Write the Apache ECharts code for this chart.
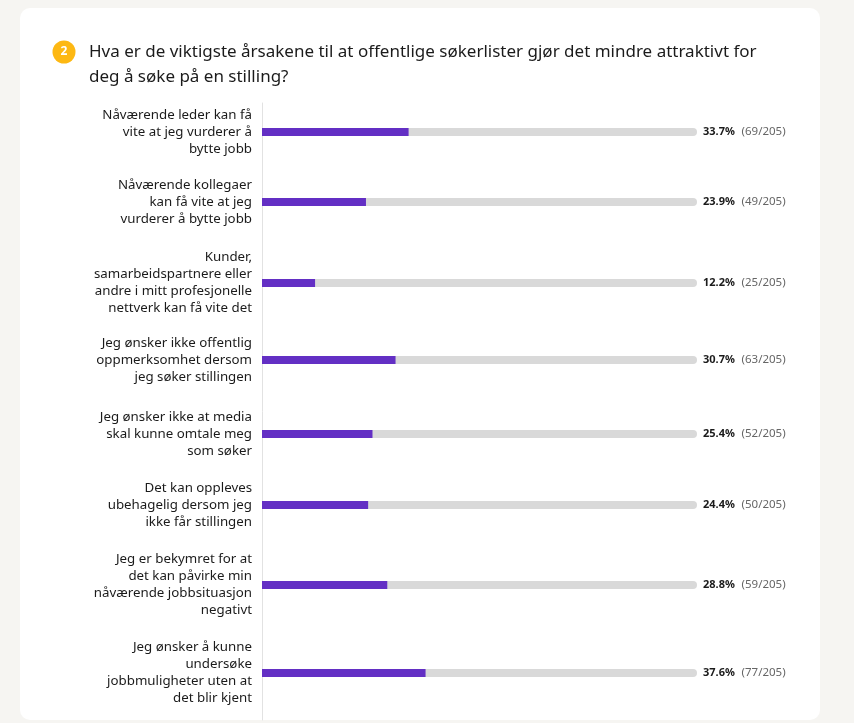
<!DOCTYPE html>
<html><head><meta charset="utf-8">
<script src="https://cdn.jsdelivr.net/npm/echarts@6/dist/echarts.min.js"></script>
<style>html,body{margin:0;padding:0;background:#f6f5f2;}#c{width:854px;height:723px;}</style>
</head><body><div id="c"></div>
<script>
const titleText = "Hva er de viktigste årsakene til at offentlige søkerlister gjør det mindre attraktivt for\ndeg å søke på en stilling?";
const questionNumber = "2";
const categories = [
  "Nåværende leder kan få\nvite at jeg vurderer å\nbytte jobb",
  "Nåværende kollegaer\nkan få vite at jeg\nvurderer å bytte jobb",
  "Kunder,\nsamarbeidspartnere eller\nandre i mitt profesjonelle\nnettverk kan få vite det",
  "Jeg ønsker ikke offentlig\noppmerksomhet dersom\njeg søker stillingen",
  "Jeg ønsker ikke at media\nskal kunne omtale meg\nsom søker",
  "Det kan oppleves\nubehagelig dersom jeg\nikke får stillingen",
  "Jeg er bekymret for at\ndet kan påvirke min\nnåværende jobbsituasjon\nnegativt",
  "Jeg ønsker å kunne\nundersøke\njobbmuligheter uten at\ndet blir kjent"
];
const percents = [33.7, 23.9, 12.2, 30.7, 25.4, 24.4, 28.8, 37.6];
const counts = [69, 49, 25, 63, 52, 50, 59, 77];
const total = 205;
const trackMax = 100;

// layout (pixel centres of each row)
const rowCenters = [132, 202, 283, 360, 434, 505, 585, 673];
const FONT = "'Noto Sans', 'Open Sans', sans-serif";

const grids = [], xAxes = [], yAxes = [], series = [];
rowCenters.forEach((c, i) => {
  grids.push({left: 262, right: 157, top: c - 20, height: 40, containLabel: false});
  xAxes.push({type: 'value', gridIndex: i, min: 0, max: trackMax, show: false});
  yAxes.push({type: 'category', gridIndex: i, data: [categories[i]],
    axisLine: {show: false}, axisTick: {show: false},
    axisLabel: {align: 'right', margin: 10, fontSize: 13.3, lineHeight: 17, color: '#1b1b1b', fontFamily: FONT}});
  series.push({type: 'bar', xAxisIndex: i, yAxisIndex: i, data: [trackMax], barWidth: 8,
    itemStyle: {color: '#d9d9d9', borderRadius: [0, 4, 4, 0]}, silent: true, z: 1,
    label: {show: true, position: 'right', distance: 6,
      formatter: () => '{b|' + percents[i].toFixed(1) + '%}  {n|(' + counts[i] + '/' + total + ')}',
      rich: {b: {fontWeight: 'bold', fontSize: 11, color: '#1b1b1b', fontFamily: FONT},
             n: {fontSize: 11.5, color: '#666666', fontFamily: FONT}}}});
  series.push({type: 'bar', xAxisIndex: i, yAxisIndex: i, data: [percents[i]], barWidth: 8, barGap: '-100%',
    itemStyle: {color: '#632fc4'}, z: 2});
});
// full-height vertical axis line
const n = rowCenters.length;
grids.push({left: 262, width: 10, top: 103, bottom: 3});
xAxes.push({type: 'value', gridIndex: n, show: false});
yAxes.push({type: 'value', gridIndex: n, min: 0, max: 1, axisLine: {show: true, lineStyle: {color: '#e2e2e2', width: 1}},
  axisTick: {show: false}, axisLabel: {show: false}, splitLine: {show: false}});

const chart = echarts.init(document.getElementById('c'), null, {renderer: 'canvas'});
chart.setOption({
  animation: false,
  backgroundColor: '#f6f5f2',
  graphic: [
    {type: 'rect', shape: {x: 20, y: 8, width: 800, height: 712, r: 10}, style: {fill: '#ffffff'}, z: -10},
    {type: 'circle', shape: {cx: 64, cy: 52, r: 11.5}, style: {fill: '#fdb813'}, z: 5},
    {type: 'text', x: 64, y: 52, style: {text: questionNumber, fill: '#ffffff', fontSize: 12, fontWeight: 'bold', fontFamily: FONT,
      align: 'center', verticalAlign: 'middle'}, z: 6}
  ],
  title: {text: titleText, left: 89, top: 40, padding: 0,
    textStyle: {fontSize: 17, fontWeight: 'normal', color: '#1b1b1b', lineHeight: 25, fontFamily: FONT}},
  grid: grids, xAxis: xAxes, yAxis: yAxes, series: series
});
</script></body></html>
